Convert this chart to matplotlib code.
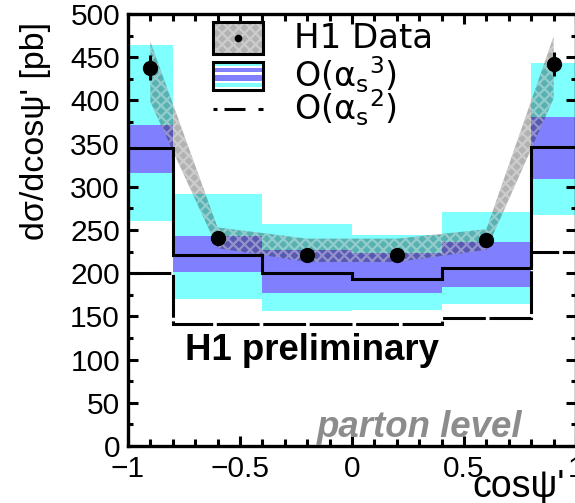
import numpy as np
import matplotlib
matplotlib.use("Agg")
import matplotlib.pyplot as plt
from matplotlib.patches import Rectangle
from matplotlib.lines import Line2D
from matplotlib.ticker import MultipleLocator

plt.rcParams["font.family"] = ["Liberation Sans", "DejaVu Sans"]
plt.rcParams["mathtext.fontset"] = "custom"
plt.rcParams["mathtext.rm"] = "DejaVu Sans"
plt.rcParams["mathtext.it"] = "DejaVu Sans:italic"
plt.rcParams["hatch.linewidth"] = 1.6

CIANO = "#80ffff"
AZUL = "#8080ff"

# bins da previsao teorica em cos(psi')
bordas = [-1.0, -0.8, -0.4, 0.0, 0.4, 0.8, 1.0]
# O(as^3): valor central, banda interna (azul) e externa (ciano)
nlo_central = [345, 221, 200, 193, 206, 346]
nlo_int_lo = [316, 201, 177, 177, 184, 309]
nlo_int_hi = [371, 243, 227, 223, 236, 381]
nlo_ext_lo = [260, 170, 156, 157, 164, 267]
nlo_ext_hi = [464, 292, 257, 244, 271, 443]
# O(as^2)
lo_central = [200, 141, 141, 141, 148, 225]

# dados H1
x_dados = [-0.9, -0.6, -0.2, 0.2, 0.6, 0.9]
y_dados = [438, 241, 221, 221, 238, 442]
err_dados = [14, 6, 6, 6, 6, 14]
faixa_lo = [398, 229, 213, 213, 227, 402]
faixa_hi = [468, 253, 240, 240, 251, 474]

xticks = [-1.0, -0.5, 0.0, 0.5, 1.0]
xtick_rotulos = ["\u22121", "\u22120.5", "0", "0.5", "1"]

fig = plt.figure(figsize=(5.75, 5.03), dpi=100)
ax = fig.add_axes([128 / 575, 57 / 503, 448 / 575, 432 / 503])

# bandas O(as^3)
ax.stairs(nlo_ext_hi, bordas, baseline=nlo_ext_lo, fill=True, color=CIANO,
          lw=0, zorder=1)
ax.stairs(nlo_int_hi, bordas, baseline=nlo_int_lo, fill=True, color=AZUL,
          lw=0, zorder=2)

# faixa dos dados (hachurada, semi-transparente)
ESTILO_FAIXA = dict(facecolor=(0, 0, 0, 0.3), edgecolor=(1, 1, 1, 0.35),
                    hatch="xxx", lw=0)
ax.fill_between(x_dados, faixa_lo, faixa_hi, zorder=3, **ESTILO_FAIXA)

# linhas centrais
ax.stairs(nlo_central, bordas, baseline=None, color="k", lw=2.2, zorder=4)
ax.stairs(lo_central, bordas, baseline=None, color="k", lw=2.2,
          linestyle=(0, (14, 1.2)), zorder=4)

ax.errorbar(x_dados, y_dados, yerr=err_dados, fmt="o", color="k", ms=10,
            elinewidth=2.2, capsize=0, zorder=5)

ax.set_xlim(-1, 1)
ax.set_ylim(0, 500)
ax.set_xticks(xticks, xtick_rotulos)
ax.xaxis.set_minor_locator(MultipleLocator(0.1))
ax.yaxis.set_major_locator(MultipleLocator(50))
ax.yaxis.set_minor_locator(MultipleLocator(25))
ax.tick_params(which="both", direction="in", top=True, right=True, width=2.2,
               labelsize=21.5)
ax.tick_params(which="major", length=7)
ax.tick_params(which="minor", length=3.5)
ax.tick_params(axis="x", which="minor", bottom=True, length=5)
ax.tick_params(axis="y", pad=5.8)
ax.tick_params(axis="x", pad=6.5)
for s in ax.spines.values():
    s.set_linewidth(2.4)

ax.set_ylabel("d\u03c3/dcos\u03c8' [pb]", fontsize=24.5, ha="right", va="center")
ax.yaxis.set_label_coords(-0.207, 0.982)
ax.set_xlabel("cos\u03c8'", fontsize=27, ha="left", va="baseline")
ax.xaxis.set_label_coords(0.768, -0.118)

ax.text(0.127, 0.199, "H1 preliminary", transform=ax.transAxes,
        fontsize=26.4, weight="bold", va="baseline")
ax.text(0.422, 0.021, "parton level", transform=ax.transAxes, fontsize=26.4,
        weight="bold", style="italic", color="#8c8c8c", va="baseline")

# legenda
T = ax.transAxes
ax.add_patch(Rectangle((0.190, 0.907), 0.111, 0.074, transform=T,
                       facecolor="white", edgecolor="none", zorder=6))
ax.add_patch(Rectangle((0.190, 0.907), 0.111, 0.074, transform=T, zorder=6,
                       **ESTILO_FAIXA))
ax.add_patch(Rectangle((0.190, 0.907), 0.111, 0.074, transform=T,
                       facecolor="none", edgecolor="k", lw=2.2, zorder=7))
ax.plot([0.2455], [0.944], "o", color="k", ms=4.5, transform=T, zorder=7)

ax.add_patch(Rectangle((0.190, 0.824), 0.111, 0.065, transform=T,
                       facecolor="white", edgecolor="none", zorder=6))
for y0, y1, cor in [(0.831, 0.840, CIANO), (0.845, 0.859, AZUL),
                    (0.866, 0.875, AZUL), (0.880, 0.887, CIANO)]:
    ax.add_patch(Rectangle((0.190, y0), 0.111, y1 - y0, transform=T,
                           facecolor=cor, edgecolor="none", zorder=6))
ax.add_patch(Rectangle((0.190, 0.824), 0.111, 0.065, transform=T,
                       facecolor="none", edgecolor="k", lw=2.2, zorder=7))

k = 0.72 / 2.2
ax.add_line(Line2D([0.190, 0.301], [0.780, 0.780], transform=T, color="k",
                   lw=2.2, zorder=7,
                   linestyle=(0, (4 * k, 7 * k, 21 * k, 13 * k, 5 * k, 40 * k))))

ax.text(0.371, 0.944, "H1 Data", transform=T, fontsize=24.5, va="center",
        family="DejaVu Sans", zorder=7)
ax.text(0.371, 0.860, r"O($\mathrm{\alpha}_\mathrm{s}{}^\mathrm{3}$)",
        transform=T, fontsize=24, va="center", family="DejaVu Sans", zorder=7)
ax.text(0.371, 0.784, r"O($\mathrm{\alpha}_\mathrm{s}{}^\mathrm{2}$)",
        transform=T, fontsize=24, va="center", family="DejaVu Sans", zorder=7)

fig.savefig("out.png", dpi=100)
